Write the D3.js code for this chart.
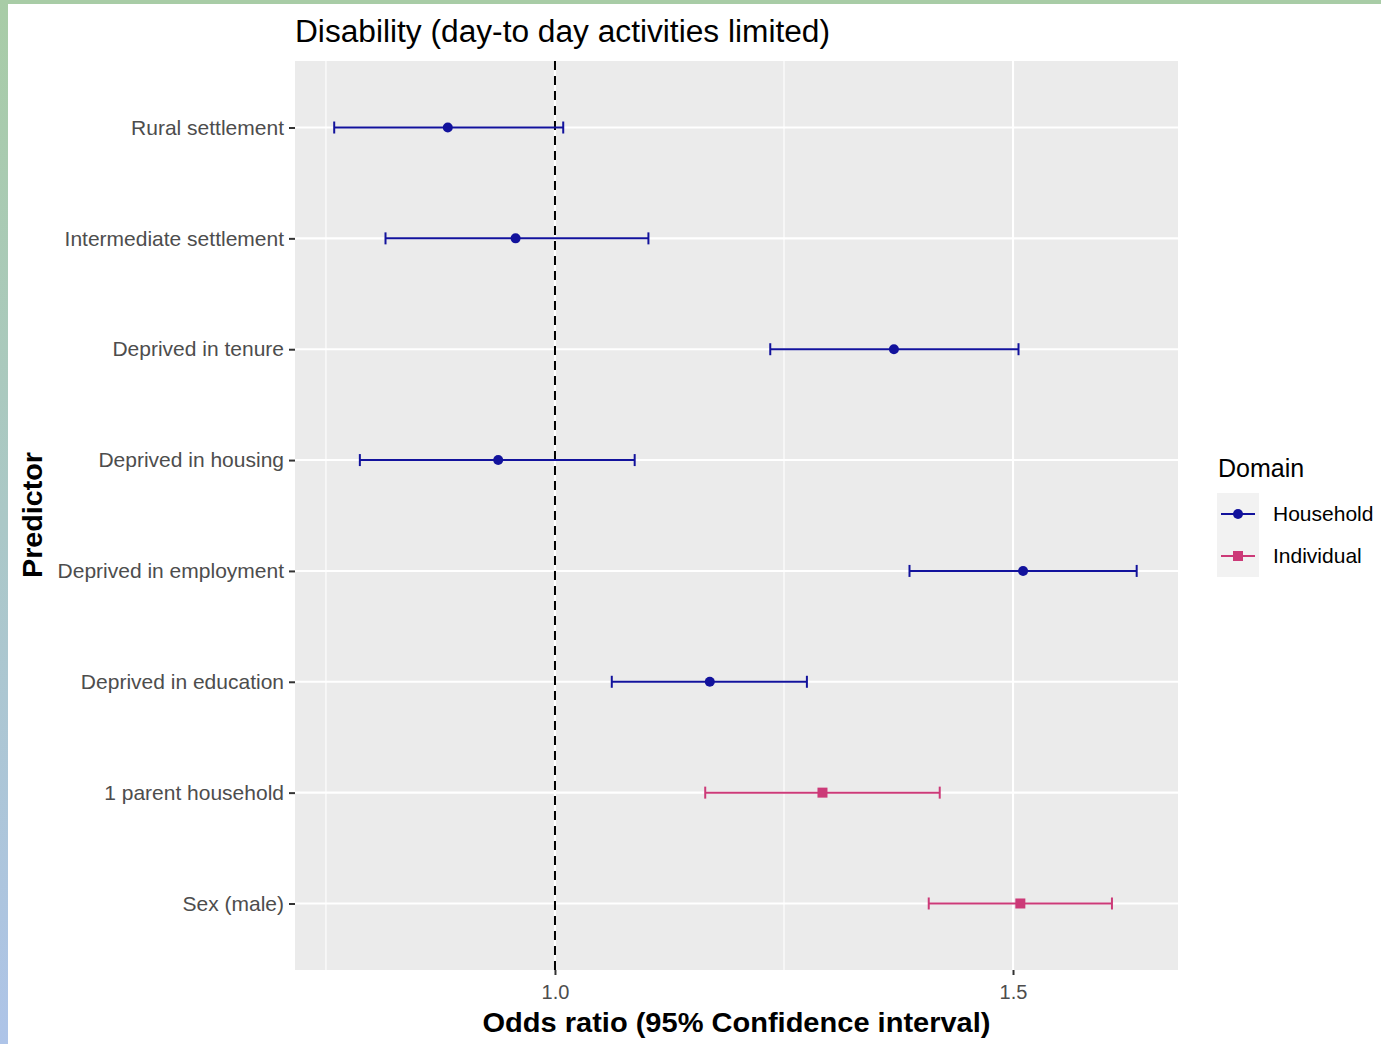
<!DOCTYPE html>
<html><head><meta charset="utf-8">
<script src="https://cdn.jsdelivr.net/npm/d3@7"></script>
<style>
html,body{margin:0;padding:0;background:#fff;}
svg{display:block;font-family:Arial,"Liberation Sans",sans-serif;}
</style></head>
<body>
<svg id="chart" width="1381" height="1044"></svg>
<script>
// ---- data ----
const predictors = ["Rural settlement","Intermediate settlement","Deprived in tenure","Deprived in housing","Deprived in employment","Deprived in education","1 parent household","Sex (male)"];
const domains = ["Household","Household","Household","Household","Household","Household","Individual","Individual"];
const oddsRatio = [0.883,0.957,1.370,0.938,1.511,1.169,1.292,1.508];
const ciLow = [0.759,0.815,1.235,0.787,1.387,1.062,1.164,1.408];
const ciHigh = [1.009,1.102,1.506,1.087,1.635,1.275,1.420,1.608];
const xTicks = [1.0,1.5];
const xMinor = [0.75,1.25];
const legendDomains = ["Household","Individual"];
const domainColors = ["#12129c","#cc3a78"];

const rows = predictors.map((p,i)=>({p, d:domains[i], or:oddsRatio[i], lo:ciLow[i], hi:ciHigh[i]}));

const svg = d3.select("#chart");
const W=1381,H=1044;

// frame decoration
const defs = svg.append("defs");
const lg = defs.append("linearGradient").attr("id","lg").attr("x1",0).attr("y1",0).attr("x2",0).attr("y2",1);
lg.append("stop").attr("offset","0%").attr("stop-color","#a8cca6");
lg.append("stop").attr("offset","100%").attr("stop-color","#aec4e8");
svg.append("rect").attr("x",0).attr("y",0).attr("width",W).attr("height",4).attr("fill","#a8cca6");
svg.append("rect").attr("x",0).attr("y",0).attr("width",8).attr("height",H).attr("fill","url(#lg)");

const P = {l:295, r:1178, t:61, b:970};
const x = d3.scaleLinear().domain([0.7162,1.6801]).range([P.l,P.r]);
const y = d3.scalePoint().domain(predictors).range([P.t,P.b]).padding(0.6);
const color = d3.scaleOrdinal().domain(legendDomains).range(domainColors);

// panel
svg.append("rect").attr("x",P.l).attr("y",P.t).attr("width",P.r-P.l).attr("height",P.b-P.t).attr("fill","#ebebeb");
const g = svg.append("g");
g.selectAll(".minor").data(xMinor).join("line")
 .attr("x1",d=>x(d)).attr("x2",d=>x(d)).attr("y1",P.t).attr("y2",P.b)
 .attr("stroke","#fff").attr("stroke-width",1.1);
g.selectAll(".majx").data(xTicks).join("line")
 .attr("x1",d=>x(d)).attr("x2",d=>x(d)).attr("y1",P.t).attr("y2",P.b)
 .attr("stroke","#fff").attr("stroke-width",2.1);
g.selectAll(".majy").data(predictors).join("line")
 .attr("x1",P.l).attr("x2",P.r).attr("y1",d=>y(d)).attr("y2",d=>y(d))
 .attr("stroke","#fff").attr("stroke-width",2.1);

// reference line
svg.append("line").attr("x1",x(1)).attr("x2",x(1)).attr("y1",P.t).attr("y2",P.b)
 .attr("stroke","#000").attr("stroke-width",2).attr("stroke-dasharray","9,6");

// error bars
const eb = svg.append("g").selectAll("g").data(rows).join("g").attr("stroke",d=>color(d.d)).attr("stroke-width",2);
eb.append("line").attr("x1",d=>x(d.lo)).attr("x2",d=>x(d.hi)).attr("y1",d=>y(d.p)).attr("y2",d=>y(d.p));
eb.append("line").attr("x1",d=>x(d.lo)).attr("x2",d=>x(d.lo)).attr("y1",d=>y(d.p)-6).attr("y2",d=>y(d.p)+6);
eb.append("line").attr("x1",d=>x(d.hi)).attr("x2",d=>x(d.hi)).attr("y1",d=>y(d.p)-6).attr("y2",d=>y(d.p)+6);
// points
svg.append("g").selectAll("circle").data(rows.filter(d=>d.d==="Household")).join("circle")
 .attr("cx",d=>x(d.or)).attr("cy",d=>y(d.p)).attr("r",5).attr("fill",d=>color(d.d));
svg.append("g").selectAll("rect").data(rows.filter(d=>d.d==="Individual")).join("rect")
 .attr("x",d=>x(d.or)-5).attr("y",d=>y(d.p)-5).attr("width",10).attr("height",10).attr("fill",d=>color(d.d));

// axes
const xAxis = svg.append("g").attr("transform",`translate(0,${P.b})`)
 .call(d3.axisBottom(x).tickValues(xTicks).tickFormat(d3.format(".1f")).tickSize(5).tickPadding(10));
xAxis.select(".domain").remove();
xAxis.selectAll("line").attr("stroke","#333").attr("stroke-width",2);
xAxis.selectAll("text").attr("fill","#4d4d4d").style("font-size","20px").style("font-family","Arial,'Liberation Sans',sans-serif");

const yAxis = svg.append("g").attr("transform",`translate(${P.l},0)`)
 .call(d3.axisLeft(y).tickSize(6).tickPadding(5));
yAxis.select(".domain").remove();
yAxis.selectAll("line").attr("stroke","#333").attr("stroke-width",2);
yAxis.selectAll("text").attr("fill","#4d4d4d").style("font-size","21px").style("font-family","Arial,'Liberation Sans',sans-serif");

// titles
svg.append("text").attr("x",P.l).attr("y",42).text("Disability (day-to day activities limited)")
 .style("font-size","31px").attr("fill","#000").attr("textLength",535).attr("lengthAdjust","spacingAndGlyphs");
svg.append("text").attr("x",(P.l+P.r)/2).attr("y",1032).attr("text-anchor","middle")
 .text("Odds ratio (95% Confidence interval)").style("font-size","28px").style("font-weight","bold")
 .attr("textLength",508).attr("lengthAdjust","spacingAndGlyphs");
svg.append("text").attr("transform","translate(42,515) rotate(-90)").attr("text-anchor","middle")
 .text("Predictor").style("font-size","28px").style("font-weight","bold")
 .attr("textLength",126).attr("lengthAdjust","spacingAndGlyphs");

// legend
const L = svg.append("g");
L.append("text").attr("x",1218).attr("y",477).text("Domain").style("font-size","25px").attr("fill","#000");
L.append("rect").attr("x",1217).attr("y",493).attr("width",42).attr("height",84).attr("fill","#f2f2f2");
const li = L.selectAll(".li").data(legendDomains).join("g").attr("transform",(d,i)=>`translate(1238,${514+i*42})`);
li.append("line").attr("x1",-17).attr("x2",17).attr("stroke",d=>color(d)).attr("stroke-width",2);
li.filter(d=>d==="Household").append("circle").attr("r",5).attr("fill",d=>color(d));
li.filter(d=>d==="Individual").append("rect").attr("x",-5).attr("y",-5).attr("width",10).attr("height",10).attr("fill",d=>color(d));
li.append("text").attr("x",35).attr("dy","0.35em").text(d=>d).style("font-size","21px").attr("fill","#000");
</script>
</body></html>
